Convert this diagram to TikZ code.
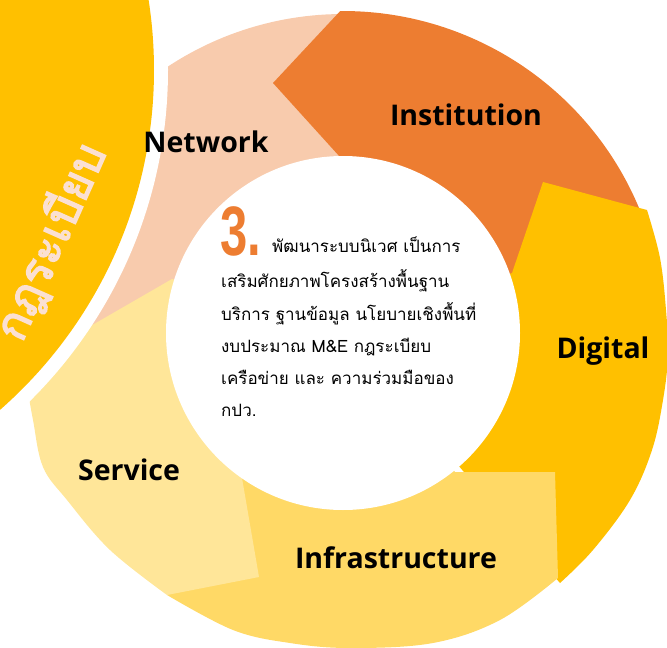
\documentclass[tikz,border=0pt]{standalone}
\usepackage{graphicx}
\usepackage{fontspec}
\newfontfamily\thaifont[Script=Thai]{Loma}
\newfontfamily\thaiheavy[Script=Thai, FakeBold=3]{Loma}
\newfontfamily\labfont{Open Sans}
\newfontfamily\numfont{Liberation Sans}
\definecolor{cInst}{HTML}{ED7D31}
\definecolor{cNet}{HTML}{F8CBAD}
\definecolor{cDig}{HTML}{FFC000}
\definecolor{cInfra}{HTML}{FFD966}
\definecolor{cServ}{HTML}{FFE699}
\definecolor{cSide}{HTML}{FBE0D2}
\begin{document}
\begin{tikzpicture}[x=1pt,y=-1pt,
  lab/.style={font=\labfont\bfseries\fontsize{28.5}{34}\selectfont, inner sep=0pt, anchor=base},
  body/.style={font=\thaifont\fontsize{17}{22}\selectfont, inner sep=0pt, anchor=base west}]
\useasboundingbox (0,0) rectangle (667,648);
\clip (0,0) rectangle (667,648);
\coordinate (C) at (343,332);
% Network
\fill[cNet] (C) -- plot[domain=175:276, samples=80, variable=\t] ({343+318*cos(\t)},{332+318*sin(\t)}) -- cycle;
% Institution
\fill[cInst] (273,83) -- plot[domain=-90.5:-8, samples=80, variable=\t] ({343+321*cos(\t)},{332+321*sin(\t)}) -- (C) -- (340,157) -- cycle;
% Digital
\fill[cDig] (C) -- (512,273) -- (543,182) -- (647,210)
  -- plot[smooth, tension=0.6] coordinates {(647,210) (660,258) (666,310) (668,355) (663,400) (652,450) (630,500) (593,550) (560,583)}
  -- (540,560) -- cycle;
% Infrastructure
\fill[cInfra] (C) -- (455,472) -- (555,472) -- (558,578)
  -- plot[smooth, tension=0.6] coordinates {(558,578) (500,620) (433,643) (350,648) (290,643) (233,630) (167,595)}
  -- (200,540) -- (242,478) -- cycle;
% Service
\fill[cServ] (C) -- (242,478) -- (259,577) -- (167,595)
  -- plot[smooth, tension=0.6] coordinates {(167,595) (110,550) (67,500) (43,467) (33,420) (26,380)}
  -- (30,361) -- (172,279) -- cycle;
% inner white disk
\fill[white] (343,333) circle[radius=177];
% big yellow circle with white rim
\fill[white] (-298,70) circle[radius=466];
\fill[cDig] (-298,70) circle[radius=452];
\node[font=\thaiheavy\fontsize{46}{50}\selectfont, text=cSide, rotate=66, inner sep=0pt] (side) at (51,242) {กฎระเบียบ};
% labels
\node[lab] (network) at (206,152) {Network};
\node[lab] (institution) at (466,125) {Institution};
\node[lab] (digital) at (603,358) {Digital};
\node[lab] (infra) at (396,568) {Infrastructure};
\node[lab] (service) at (129,480) {Service};
% body text
\node[anchor=base west, inner sep=0pt, text=cInst] (num) at (220,255) {\scalebox{0.7}[1]{\numfont\bfseries\fontsize{70}{70}\selectfont 3.}};
\node[body] (l1) at (272,252) {พัฒนาระบบนิเวศ เป็นการ};
\node[body] (l2) at (221,287) {เสริมศักยภาพโครงสร้างพื้นฐาน};
\node[body] (l3) at (221,320) {บริการ ฐานข้อมูล นโยบายเชิงพื้นที่};
\node[body] (l4) at (221,352) {งบประมาณ M\&E กฎระเบียบ};
\node[body] (l5) at (221,384) {เครือข่าย และ ความร่วมมือของ};
\node[body] (l6) at (221,416) {กปว.};
\end{tikzpicture}
\end{document}
